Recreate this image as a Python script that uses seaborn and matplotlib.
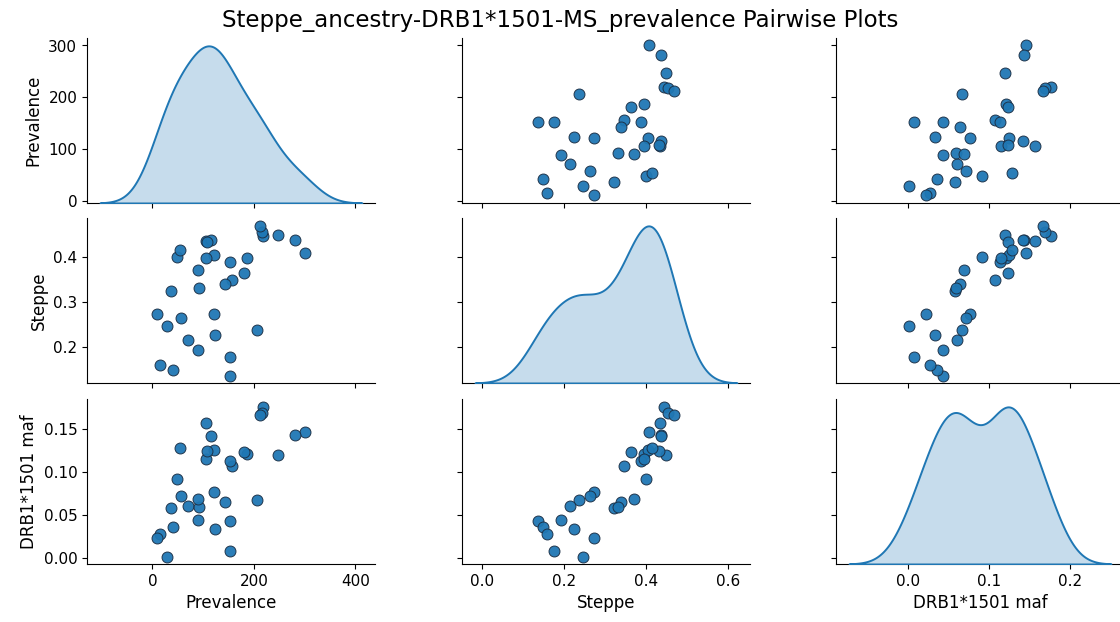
import matplotlib
matplotlib.use("Agg")
import matplotlib.pyplot as plt
import seaborn as sns
import pandas as pd

# MS prevalence per 100k, steppe ancestry fraction, DRB1*1501 minor allele frequency
prevalence = [300, 281, 247, 219, 217, 212, 206, 186, 181, 153, 153,
              156, 153, 143, 124, 121, 121, 105, 105, 115, 108, 41,
              14, 89, 70, 29, 57, 10, 36, 92, 90, 48, 54]
steppe = [0.408, 0.437, 0.449, 0.445, 0.454, 0.469, 0.236, 0.396, 0.363, 0.136, 0.176,
          0.347, 0.388, 0.339, 0.225, 0.272, 0.404, 0.396, 0.435, 0.437, 0.432, 0.148,
          0.159, 0.193, 0.215, 0.246, 0.264, 0.272, 0.323, 0.331, 0.371, 0.400, 0.414]
drb1_maf = [0.146, 0.143, 0.120, 0.176, 0.169, 0.166, 0.067, 0.121, 0.123, 0.043, 0.008,
            0.107, 0.113, 0.065, 0.034, 0.077, 0.125, 0.115, 0.157, 0.142, 0.124, 0.036,
            0.028, 0.044, 0.061, 0.002, 0.072, 0.023, 0.058, 0.059, 0.069, 0.092, 0.128]

prevalence_ticks = [0, 200, 400]

df = pd.DataFrame({
    "Prevalence": prevalence,
    "Steppe": steppe,
    "DRB1*1501 maf": drb1_maf,
})

plt.rcParams["font.family"] = ["DejaVu Sans"]
plt.rcParams["font.size"] = 11

g = sns.pairplot(
    df,
    diag_kind="kde",
    plot_kws=dict(s=62, edgecolor="#1b2f45", linewidth=0.7, alpha=0.95),
    diag_kws=dict(fill=True, linewidth=1.4),
)
fig = g.figure
fig.set_size_inches(11.2, 6.22)

W, H = 1120.0, 622.0
col_left = [87, 462, 836]
row_bottom = [203, 383, 564]
aw, ah = 288, 165
for i in range(3):
    for j in range(3):
        ax = g.axes[i, j]
        ax.set_position([col_left[j] / W, (H - row_bottom[i]) / H, aw / W, ah / H])
        ax.tick_params(labelsize=11)
        ax.xaxis.label.set_size(12)
        ax.yaxis.label.set_size(12)

g.axes[2, 0].set_xticks(prevalence_ticks)

fig.suptitle("Steppe_ancestry-DRB1*1501-MS_prevalence Pairwise Plots",
             fontsize=16.5, y=0.985)
fig.savefig("out.png", dpi=100)
